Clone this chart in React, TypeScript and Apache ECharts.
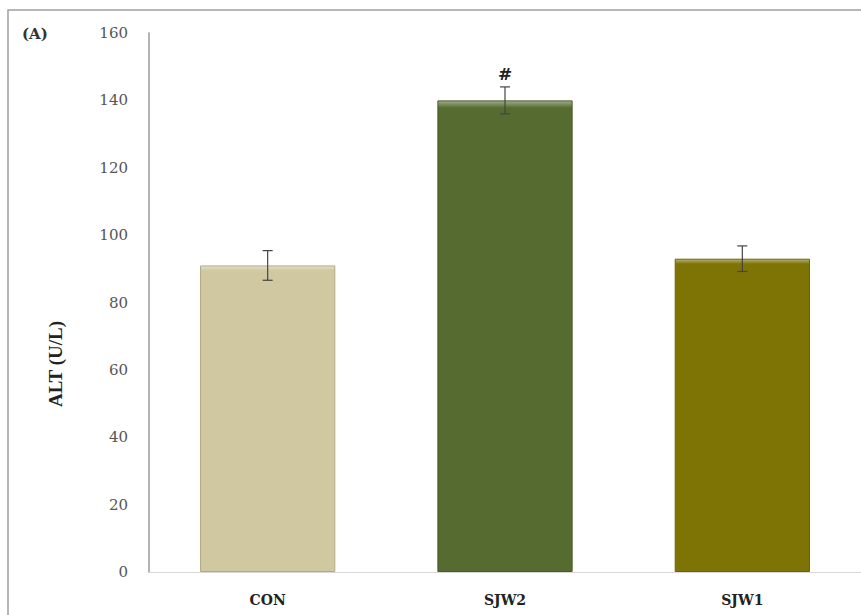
import React, { useEffect, useRef } from "react";
import * as echarts from "echarts";

const categories = ["CON", "SJW2", "SJW1"];
const means = [91, 140, 93];
const errors = [4.4, 4, 3.8];
const marks = ["", "#", ""];
const barColors = ["#CFC8A0", "#556B2F", "#7E7406"];
const yTicks = { min: 0, max: 160, interval: 20 };

const serif = "'DejaVu Serif', 'Liberation Serif', serif";

function lighten(hex: string, amt: number) {
  const n = parseInt(hex.slice(1), 16);
  const r = (n >> 16) & 255, g = (n >> 8) & 255, b = n & 255;
  const f = (c: number) => Math.round(c + (255 - c) * amt);
  return `rgb(${f(r)},${f(g)},${f(b)})`;
}
function darken(hex: string, amt: number) {
  const n = parseInt(hex.slice(1), 16);
  const r = (n >> 16) & 255, g = (n >> 8) & 255, b = n & 255;
  const f = (c: number) => Math.round(c * (1 - amt));
  return `rgb(${f(r)},${f(g)},${f(b)})`;
}

export default function App() {
  const ref = useRef<HTMLDivElement>(null);
  useEffect(() => {
    document.body.style.margin = "0";
    const chart = echarts.init(ref.current!, null, { renderer: "svg" });
    const errData = categories.map((c, i) => [i, means[i] - errors[i], means[i] + errors[i], marks[i]]);
    chart.setOption({
      animation: false,
      backgroundColor: "#ffffff",
      grid: { left: 149, top: 33, width: 715, bottom: 43, containLabel: false },
      xAxis: {
        type: "category",
        data: categories,
        axisLine: { lineStyle: { color: "#d8d8d8", width: 1 } },
        axisTick: { show: false },
        axisLabel: { color: "#222", fontFamily: serif, fontWeight: "bold", fontSize: 14, margin: 21 },
      },
      yAxis: {
        type: "value",
        min: yTicks.min,
        max: yTicks.max,
        interval: yTicks.interval,
        axisLine: { show: true, lineStyle: { color: "#9a9a9a", width: 1.5 } },
        axisTick: { show: false },
        splitLine: { show: false },
        axisLabel: { color: "#555", fontFamily: serif, fontSize: 15, margin: 21 },
      },
      graphic: [
        { type: "rect", shape: { x: 8, y: 10, width: 900, height: 700 }, style: { fill: "none", stroke: "#a0a0a0", lineWidth: 1.5 }, silent: true },
        { type: "text", x: 22, y: 34, style: { text: "(A)", font: `bold 15px ${serif}`, fill: "#333", verticalAlign: "middle" } },
        { type: "text", x: 55, y: 364, rotation: Math.PI / 2, style: { text: "ALT (U/L)", font: `bold 19px 'Liberation Serif', serif`, fill: "#222", align: "center", verticalAlign: "middle" } },
      ],
      series: [
        {
          type: "bar",
          barWidth: "57%",
          data: means.map((v, i) => ({
            value: v,
            itemStyle: {
              color: new echarts.graphic.LinearGradient(0, 0, 0, 1, [
                { offset: 0, color: lighten(barColors[i], 0.45) },
                { offset: 0.015, color: barColors[i] },
                { offset: 1, color: barColors[i] },
              ]),
              borderColor: darken(barColors[i], 0.15),
              borderWidth: 1,
            },
          })),
        },
        {
          type: "custom",
          data: errData,
          z: 10,
          renderItem: (params: any, api: any) => {
            const x = api.value(0);
            const lo = api.coord([x, api.value(1)]);
            const hi = api.coord([x, api.value(2)]);
            const mark = marks[params.dataIndex];
            const cap = 5;
            const style = { stroke: "#444", lineWidth: 1.2 };
            const children: any[] = [
              { type: "line", shape: { x1: hi[0], y1: hi[1], x2: lo[0], y2: lo[1] }, style },
              { type: "line", shape: { x1: hi[0] - cap, y1: hi[1], x2: hi[0] + cap, y2: hi[1] }, style },
              { type: "line", shape: { x1: lo[0] - cap, y1: lo[1], x2: lo[0] + cap, y2: lo[1] }, style },
            ];
            if (mark) {
              children.push({
                type: "text",
                x: hi[0],
                y: hi[1] - 4,
                style: { text: mark, font: `bold 17px ${serif}`, fill: "#222", align: "center", verticalAlign: "bottom" },
              });
            }
            return { type: "group", children };
          },
        },
      ],
    });
    return () => chart.dispose();
  }, []);
  return <div ref={ref} style={{ width: 861, height: 615 }} />;
}
